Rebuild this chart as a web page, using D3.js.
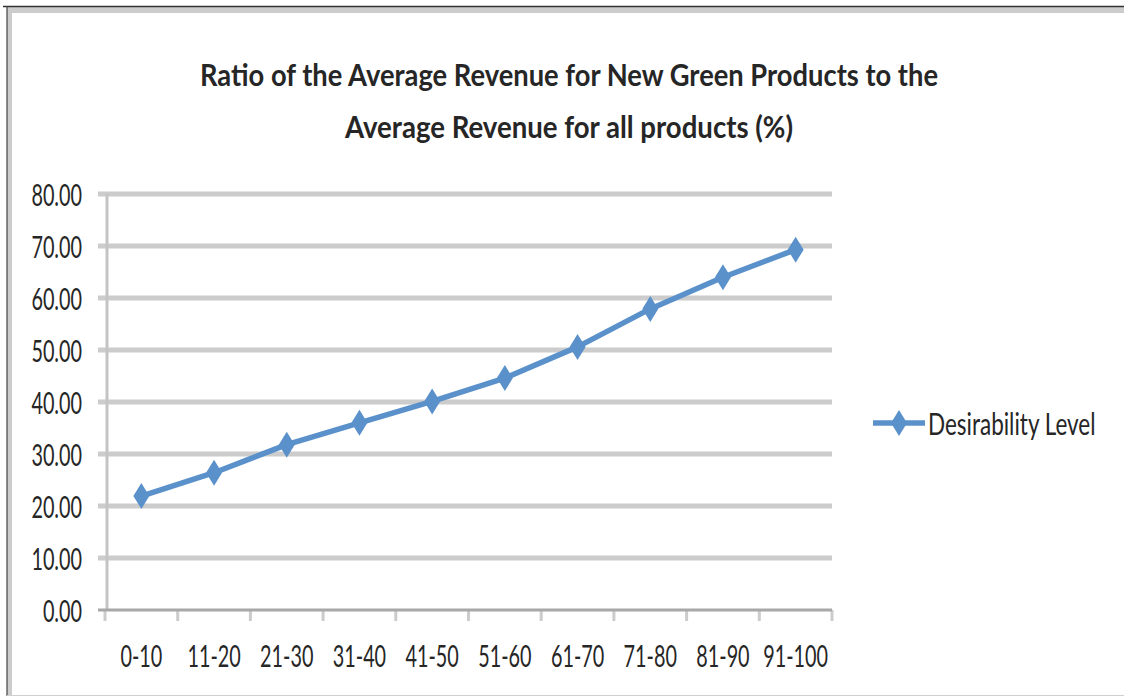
<!DOCTYPE html>
<html>
<head>
    <meta charset="utf-8" />
    <title>Ratio of the Average Revenue</title>
    <style>
        body { margin: 0; background: #fff; }
        svg { display: block; }
        text { font-family: Lato, "Open Sans", sans-serif; fill: #262626; }
    </style>
</head>
<body>
    <div id="chart"></div>
    <script src="https://cdn.jsdelivr.net/npm/d3@7/dist/d3.min.js"></script>
    <script>
        // data
        var categories = ["0-10", "11-20", "21-30", "31-40", "41-50", "51-60", "61-70", "71-80", "81-90", "91-100"];
        var desirability = [21.9, 26.4, 31.8, 36.0, 40.1, 44.6, 50.6, 57.9, 64.0, 69.3];
        var yTicks = [0, 10, 20, 30, 40, 50, 60, 70, 80];
        var titleLines = ["Ratio of the Average Revenue for New Green Products to the",
                          "Average Revenue for all products (%)"];
        var seriesName = "Desirability Level";

        var W = 1124, H = 696;
        var plot = { left: 105, right: 832, top: 194, bottom: 610 };
        var blue = "#5b91cb";
        var kx = 0.66;   // text in the picture is squeezed sideways

        var svg = d3.select("#chart").append("svg")
            .attr("width", W)
            .attr("height", H);

        // frame of the pasted picture
        svg.append("rect").attr("x", 0).attr("y", 0).attr("width", W).attr("height", H).attr("fill", "#fff");
        svg.append("rect").attr("x", 7).attr("y", 7).attr("width", W - 7).attr("height", 6).attr("fill", "#cccccc");
        svg.append("rect").attr("x", 7).attr("y", 7).attr("width", 5).attr("height", H - 7).attr("fill", "#cccccc");
        svg.append("line").attr("x1", 3).attr("x2", W).attr("y1", 6.5).attr("y2", 6.5)
            .attr("stroke", "#333").attr("stroke-width", 1.5);
        svg.append("line").attr("x1", 7).attr("x2", 7).attr("y1", 6).attr("y2", H)
            .attr("stroke", "#444").attr("stroke-width", 1.2);
        svg.append("line").attr("x1", 7).attr("x2", W).attr("y1", 695.5).attr("y2", 695.5)
            .attr("stroke", "#cfcfcf").attr("stroke-width", 1);

        var x = d3.scaleBand().domain(categories).range([plot.left, plot.right]);
        var y = d3.scaleLinear().domain([0, 80]).range([plot.bottom, plot.top]);

        // title
        svg.selectAll(".title")
            .data(titleLines)
            .join("text")
            .attr("class", "title")
            .attr("x", 569)
            .attr("y", function (d, i) { return 86 + i * 52; })
            .attr("text-anchor", "middle")
            .attr("font-size", 31)
            .attr("font-weight", "bold")
            .attr("textLength", function (d, i) { return i === 0 ? 738 : 448; })
            .attr("lengthAdjust", "spacingAndGlyphs")
            .text(function (d) { return d; });

        // gridlines
        svg.append("g")
            .selectAll("line")
            .data(yTicks.filter(function (d) { return d > 0; }))
            .join("line")
            .attr("x1", 98)
            .attr("x2", plot.right)
            .attr("y1", function (d) { return y(d); })
            .attr("y2", function (d) { return y(d); })
            .attr("stroke", "#cccccc")
            .attr("stroke-width", 5);

        // y axis
        var yAxis = d3.axisLeft(y).tickValues(yTicks).tickSize(0).tickPadding(0)
            .tickFormat(function (d) { return d.toFixed(2); });
        var gy = svg.append("g")
            .attr("transform", "translate(" + plot.left + ",0)")
            .call(yAxis);
        gy.select(".domain").remove();
        gy.append("line")
            .attr("x1", 2).attr("x2", 2)
            .attr("y1", plot.top).attr("y2", plot.bottom)
            .attr("stroke", "#c4c4c4").attr("stroke-width", 3);
        gy.selectAll(".tick text")
            .attr("x", null).attr("y", null).attr("dy", null)
            .attr("font-size", 30)
            .attr("text-anchor", "end")
            .attr("transform", "translate(-23,11) scale(" + kx + ",1)");

        // x axis
        var xAxis = d3.axisBottom(x).tickSize(0).tickPadding(0);
        var gx = svg.append("g")
            .attr("transform", "translate(0," + plot.bottom + ")")
            .call(xAxis);
        gx.select(".domain").remove();
        gx.selectAll(".tick text")
            .attr("y", null).attr("dy", null)
            .attr("font-size", 30)
            .attr("text-anchor", "middle")
            .attr("transform", "translate(0,57) scale(" + kx + ",1)");
        gx.selectAll(".tick-mark")
            .data(d3.range(categories.length + 1))
            .join("line")
            .attr("class", "tick-mark")
            .attr("x1", function (i) { return plot.left + i * x.step(); })
            .attr("x2", function (i) { return plot.left + i * x.step(); })
            .attr("y1", 0).attr("y2", 11)
            .attr("stroke", "#cccccc").attr("stroke-width", 3);
        gx.append("line")
            .attr("x1", 98).attr("x2", plot.right)
            .attr("y1", 0).attr("y2", 0)
            .attr("stroke", "#a8a8a8").attr("stroke-width", 3);

        // series
        var pts = categories.map(function (c, i) { return { cat: c, value: desirability[i] }; });
        var line = d3.line()
            .x(function (d) { return x(d.cat) + x.bandwidth() / 2; })
            .y(function (d) { return y(d.value); });
        svg.append("path")
            .datum(pts)
            .attr("d", line)
            .attr("fill", "none")
            .attr("stroke", blue)
            .attr("stroke-width", 5.5)
            .attr("stroke-linejoin", "round");

        var diamond = "M0,-13L8,0L0,13L-8,0Z";
        svg.selectAll(".marker")
            .data(pts)
            .join("path")
            .attr("class", "marker")
            .attr("d", diamond)
            .attr("fill", blue)
            .attr("transform", function (d) {
                return "translate(" + (x(d.cat) + x.bandwidth() / 2) + "," + y(d.value) + ")";
            });

        // legend
        var legend = svg.append("g").attr("transform", "translate(873,423)");
        legend.append("line")
            .attr("x1", 0).attr("x2", 52)
            .attr("y1", 0).attr("y2", 0)
            .attr("stroke", blue).attr("stroke-width", 5.5);
        legend.append("path")
            .attr("d", diamond)
            .attr("fill", blue)
            .attr("transform", "translate(26,0)");
        legend.append("text")
            .attr("font-size", 30)
            .attr("transform", "translate(55,12) scale(0.75,1)")
            .text(seriesName);
    </script>
</body>
</html>
